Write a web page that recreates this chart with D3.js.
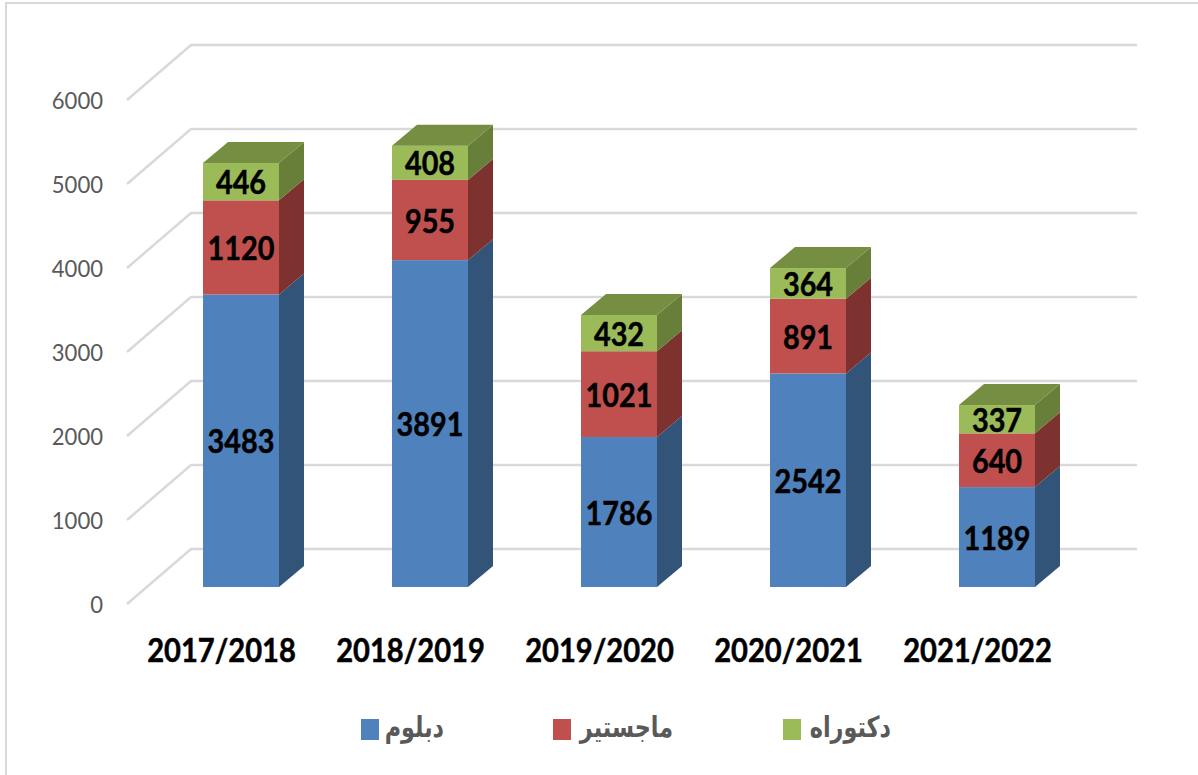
<!DOCTYPE html>
<html>
<head>
<meta charset="utf-8">
<script src="https://cdnjs.cloudflare.com/ajax/libs/d3/7.8.5/d3.min.js"></script>
<style>
html, body { margin: 0; padding: 0; background: #fff; overflow: hidden; }
svg { display: block; }
</style>
</head>
<body>
<svg></svg>
<script>
var years = ["2017/2018", "2018/2019", "2019/2020", "2020/2021", "2021/2022"];
var seriesNames = ["دبلوم", "ماجستير", "دكتوراه"];
var diploma = [3483, 3891, 1786, 2542, 1189];
var master = [1120, 955, 1021, 891, 640];
var doctorate = [446, 408, 432, 364, 337];
var yTicks = [0, 1000, 2000, 3000, 4000, 5000, 6000];

var frontColors = ["#4f81bd", "#c0504d", "#9bbb59"];
var sideColors = ["#325479", "#7d322f", "#687f3a"];
var topColors = ["#3f6797", "#9a403d", "#768e42"];

var width = 1198, height = 775;

var svg = d3.select("svg").attr("width", width).attr("height", height);

// Lato is wider than the original font, so narrow the glyphs
function squeeze(sel, k) {
	sel.each(function() {
		d3.select(this).attr("textLength", this.getComputedTextLength() * k).attr("lengthAdjust", "spacingAndGlyphs");
	});
}

// frame round the picture
svg.append("rect").attr("x", 6).attr("y", 3).attr("width", 1200).attr("height", 800)
	.attr("fill", "#fff").attr("stroke", "#d9d9d9").attr("stroke-width", 2);

// y is measured on the front plane, the walls are shifted back by depth
var y = d3.scaleLinear().domain([0, 6000]).range([604, 100]);
var x = d3.scaleBand().domain(years).range([127, 1072]);
var wallDx = 64, wallDy = -55;
var barDx = 19.5, barDy = -17;
var depthX = 25, depthY = -21;
var barWidth = 76;

var grid = svg.append("g").attr("fill", "none").attr("stroke", "#d9d9d9").attr("stroke-width", 2.5);
yTicks.forEach(function(t) {
	var pts = [[127, y(t)], [127 + wallDx, y(t) + wallDy], [1073 + wallDx, y(t) + wallDy]];
	grid.append("path").attr("d", d3.line()(pts));
});

// tick labels only, the domain and tick marks are not shown
var yAxis = svg.append("g").attr("transform", "translate(113,0)")
	.call(d3.axisLeft(y).tickValues(yTicks).tickSize(0).tickPadding(0).tickFormat(d3.format("d")));
yAxis.select(".domain").remove();
yAxis.selectAll("text").attr("font-family", "Lato, Carlito, sans-serif").attr("font-size", 24).attr("fill", "#595959").attr("x", -10).attr("dy", "0.35em");
squeeze(yAxis.selectAll("text"), 0.92);

var xAxis = svg.append("g").attr("transform", "translate(0,639)")
	.call(d3.axisBottom(x).tickSize(0).tickPadding(0));
xAxis.select(".domain").remove();
xAxis.selectAll("text").attr("font-family", "Lato, Carlito, sans-serif").attr("font-size", 32).attr("font-weight", 700).attr("fill", "#000")
	.attr("stroke", "#000").attr("stroke-width", 0.5);
squeeze(xAxis.selectAll("text"), 0.91);

var table = years.map(function(yr, i) {
	return { year: yr, a: diploma[i], b: master[i], c: doctorate[i] };
});
var stacked = d3.stack().keys(["a", "b", "c"])(table);

var bars = svg.append("g");
stacked.forEach(function(layer, s) {
	layer.forEach(function(d) {
		var left = x(d.data.year) + x.bandwidth() / 2 + barDx - barWidth / 2;
		var right = left + barWidth;
		var y0 = y(d[0]) + barDy, y1 = y(d[1]) + barDy;
		// side face
		bars.append("path").attr("fill", sideColors[s])
			.attr("d", d3.line()([[right, y0], [right + depthX, y0 + depthY], [right + depthX, y1 + depthY], [right, y1]]) + "Z");
		// front face
		bars.append("rect").attr("x", left).attr("y", y1).attr("width", barWidth).attr("height", y0 - y1)
			.attr("fill", frontColors[s]);
		// top face only on the last series
		if (s === stacked.length - 1) {
			bars.append("path").attr("fill", topColors[s])
				.attr("d", d3.line()([[left, y1], [left + depthX, y1 + depthY], [right + depthX, y1 + depthY], [right, y1]]) + "Z");
		}
		var label = bars.append("text").attr("x", (left + right) / 2).attr("y", (y0 + y1) / 2 + 1)
			.attr("dy", "0.36em").attr("text-anchor", "middle")
			.attr("font-family", "Lato, Carlito, sans-serif").attr("font-size", 32).attr("font-weight", 700).attr("fill", "#000")
			.attr("stroke", "#000").attr("stroke-width", 0.5)
			.text(d[1] - d[0]);
		squeeze(label, 0.9);
	});
});

// legend
var legendBox = [361, 553, 783];
var legendText = [444, 673, 891];
seriesNames.forEach(function(name, i) {
	svg.append("rect").attr("x", legendBox[i]).attr("y", 719).attr("width", 18).attr("height", 21).attr("fill", frontColors[i]);
	var label = svg.append("text").attr("x", legendText[i]).attr("y", 737).attr("text-anchor", "end")
		.attr("font-family", "'DejaVu Sans', sans-serif").attr("font-size", 29).attr("font-weight", 700).attr("fill", "#595959")
		.text(name);
	squeeze(label, 0.77);
});
</script>
</body>
</html>
